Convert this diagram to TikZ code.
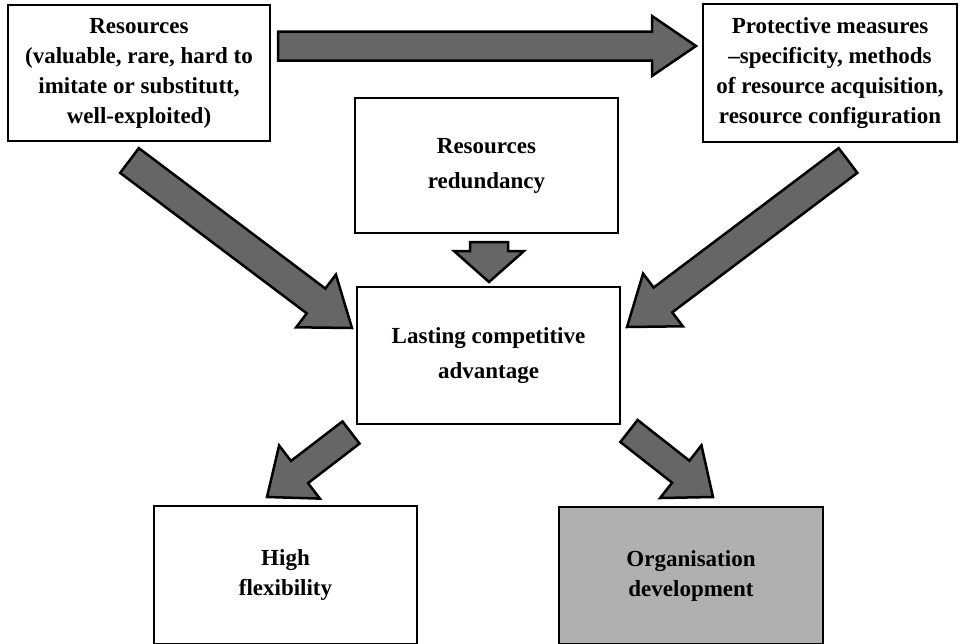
\documentclass[tikz,border=0pt]{standalone}
\usepackage{fontspec}
\setmainfont{Liberation Serif}
\usetikzlibrary{calc}

\definecolor{arrowgray}{HTML}{666666}
\definecolor{orggray}{HTML}{B0B0B0}

\tikzset{
  box/.style={draw=black, line width=2.5pt, fill=white, align=center,
    inner sep=0pt, font=\bfseries\fontsize{23}{30}\selectfont},
  widebox/.style={box, font=\bfseries\fontsize{23}{35}\selectfont},
  blockarrow/.style={draw=black, line width=2.5pt, fill=arrowgray, line join=miter},
}

% Block arrow: tail, tip, shaft half-width, head half-width, head length
\newcommand\fatarrow[5]{%
  \coordinate (fa-base) at ($(#2)!#5!(#1)$);
  \draw[blockarrow]
    ($(#1)!#3!90:(#2)$) -- ($(fa-base)!#3!-90:(#1)$) --
    ($(fa-base)!#4!-90:(#1)$) -- (#2) --
    ($(fa-base)!#4!90:(#1)$) -- ($(fa-base)!#3!90:(#1)$) --
    ($(#1)!#3!-90:(#2)$) -- cycle;
}

\begin{document}
\begin{tikzpicture}[x=1pt,y=-1pt]
  \fill[white] (0,0) rectangle (960,643);
  \useasboundingbox (0,0) rectangle (960,643);

  % boxes
  \node[box, minimum width=262pt, minimum height=136pt] (res) at (139,73)
    {Resources\\(valuable, rare, hard to\\imitate or substitutt,\\well-exploited)};
  \node[box, minimum width=254pt, minimum height=138pt] (prot) at (830,73)
    {Protective measures\\–specificity, methods\\of resource acquisition,\\resource configuration};
  \node[widebox, minimum width=263pt, minimum height=135pt] (red) at (486.5,165.5)
    {Resources\\redundancy};
  \node[widebox, minimum width=263pt, minimum height=137pt] (lca) at (488.5,355.5)
    {Lasting competitive\\advantage};
  \node[box, minimum width=263pt, minimum height=138pt] (hf) at (285.5,575)
    {High\\flexibility};
  \node[box, fill=orggray, minimum width=264pt, minimum height=137pt] (org) at (691,575.5)
    {Organisation\\development};

  % arrow end points
  \coordinate (a1s) at (278,46);      \coordinate (a1e) at (696,46);
  \coordinate (a2s) at (129.5,160.5); \coordinate (a2e) at (352,328);
  \coordinate (a3s) at (848,160.5);   \coordinate (a3e) at (627,327);
  \coordinate (a4s) at (489,242);     \coordinate (a4e) at (489,282);
  \coordinate (a5s) at (351,432.5);   \coordinate (a5e) at (267,497);
  \coordinate (a6s) at (629,431);     \coordinate (a6e) at (713,497);

  % block arrows
  \fatarrow{a1s}{a1e}{14.5pt}{30pt}{44pt}
  \fatarrow{a2s}{a2e}{15.5pt}{33pt}{45pt}
  \fatarrow{a3s}{a3e}{15.5pt}{33pt}{45pt}
  \fatarrow{a4s}{a4e}{19pt}{35pt}{31pt}
  \fatarrow{a5s}{a5e}{14pt}{33.5pt}{41pt}
  \fatarrow{a6s}{a6e}{14pt}{33.5pt}{41pt}
\end{tikzpicture}
\end{document}
